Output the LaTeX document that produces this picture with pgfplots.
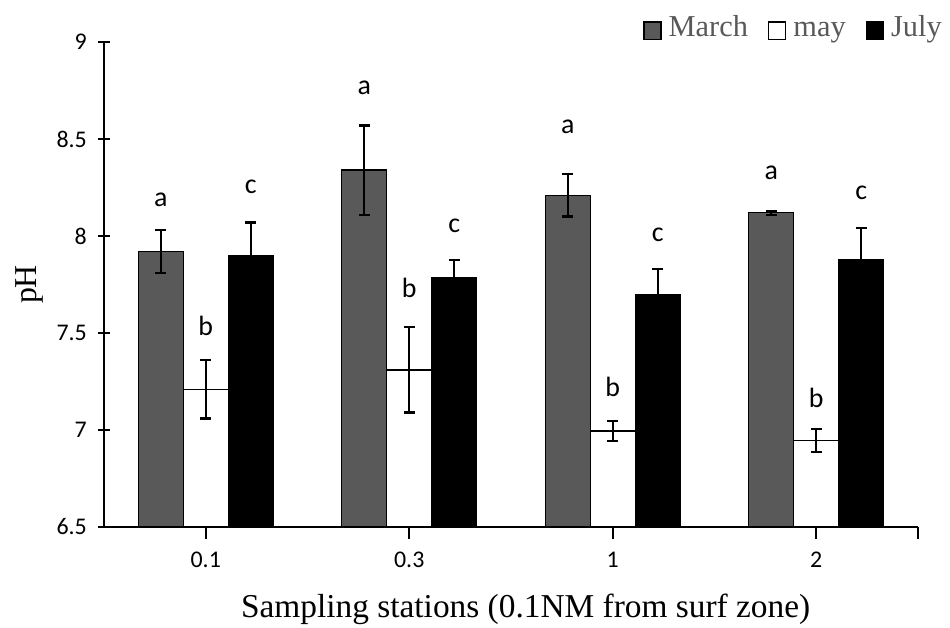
\documentclass[border=0pt]{standalone}
\usepackage{fontspec}
\setmainfont{Liberation Serif}
\newfontfamily\carlito{Carlito}
\usepackage{pgfplots}
\pgfplotsset{compat=1.18}
\definecolor{marchgray}{HTML}{595959}
\definecolor{legtext}{HTML}{595959}

\begin{document}
\begin{tikzpicture}
\useasboundingbox (-104bp,-101bp) rectangle (846bp,527bp);
\begin{axis}[
  at={(0,0)}, anchor=south west,
  scale only axis, width=814bp, height=485bp,
  xmin=-0.5, xmax=3.5, ymin=6.5, ymax=9,
  axis x line=bottom, axis y line=left,
  axis line style={-, line width=2.4bp, black},
  tick style={black, line width=2.2bp},
  major tick length=12bp, tick align=center,
  xtick={0,1,2,3,3.5}, xticklabels={0.1,0.3,1,2,{}},
  ytick={6.5,7,7.5,8,8.5,9},
  /pgf/number format/assume math mode=true,
  tick label style={font=\carlito\fontsize{24}{24}\selectfont, black},
  yticklabel style={anchor=east, inner sep=0pt, xshift=-11bp},
  xticklabel style={anchor=north, inner sep=0pt, yshift=-13bp},
  xlabel={Sampling stations (0.1NM from surf zone)},
  xlabel style={at={(axis description cs:0.518,-0.1856)}, anchor=base, font=\fontsize{33.5}{33.5}\selectfont},
  ylabel={pH},
  ylabel style={at={(axis description cs:-0.0917,0.5)}, anchor=center, font=\fontsize{32}{32}\selectfont},
  ybar=0pt, bar width=45bp,
  legend columns=3,
  legend style={at={(axis description cs:1.0319,1.043)}, anchor=north east,
    draw=none, fill=none, inner sep=0pt,
    font=\fontsize{30.5}{30.5}\selectfont, text=legtext,
    nodes={inner sep=2bp, text height=0.68em, text depth=0.22em},
    /tikz/every odd column/.append style={column sep=5bp},
    /tikz/every even column/.append style={column sep=18bp}},
  legend image code/.code={\draw[#1, line width=1.4bp] (0bp,-5.6bp) rectangle (17bp,11.8bp);},
]
\pgfplotsset{every axis plot/.append style={
  error bars/y dir=both, error bars/y explicit,
  error bars/error bar style={line width=2.3bp, black},
  error bars/error mark options={rotate=90, mark size=5.5bp, line width=2.3bp, black}}}
\addplot[fill=marchgray, draw=black, line width=1.3bp] coordinates {
  (0,7.92) +- (0,0.11)
  (1,8.34) +- (0,0.23)
  (2,8.21) +- (0,0.11)
  (3,8.12) +- (0,0.01)
};
\addplot[fill=white, draw=black, line width=1.3bp] coordinates {
  (0,7.21) +- (0,0.15)
  (1,7.31) +- (0,0.22)
  (2,6.995) +- (0,0.05)
  (3,6.945) +- (0,0.06)
};
\addplot[fill=black, draw=black, line width=1.3bp] coordinates {
  (0,7.90) +- (0,0.17)
  (1,7.785) +- (0,0.09)
  (2,7.70) +- (0,0.13)
  (3,7.88) +- (0,0.16)
};
\legend{March,may,July}
\begin{scope}[every node/.style={font=\carlito\fontsize{28}{28}\selectfont}]
\node at (axis cs:-0.2211,8.186) {a};
\node at (axis cs:0,7.536) {b};
\node at (axis cs:0.2211,8.253) {c};
\node at (axis cs:0.7789,8.763) {a};
\node at (axis cs:1,7.732) {b};
\node at (axis cs:1.2211,8.052) {c};
\node at (axis cs:1.7789,8.562) {a};
\node at (axis cs:2,7.222) {b};
\node at (axis cs:2.2211,8.005) {c};
\node at (axis cs:2.7789,8.325) {a};
\node at (axis cs:3,7.165) {b};
\node at (axis cs:3.2211,8.222) {c};
\end{scope}
\end{axis}
\end{tikzpicture}
\end{document}
